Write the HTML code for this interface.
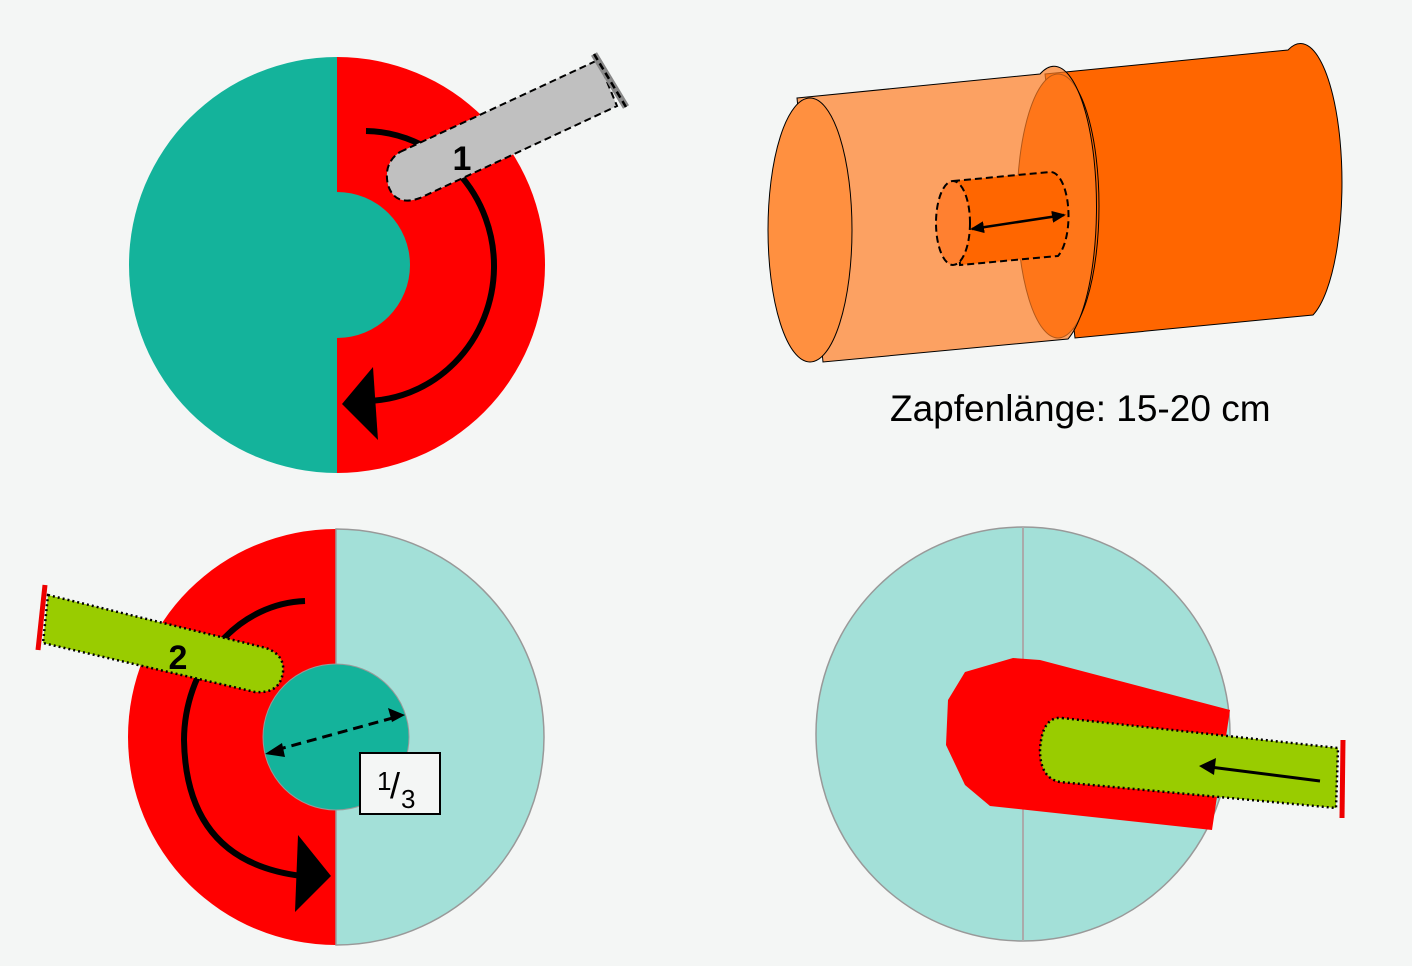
<!DOCTYPE html>
<html><head><meta charset="utf-8"><style>html,body{margin:0;padding:0;background:#f4f6f5}svg{display:block}</style></head><body>
<svg width="1412" height="966" viewBox="0 0 1412 966" xmlns="http://www.w3.org/2000/svg" font-family="Liberation Sans, sans-serif">
<defs>
<marker id="ah2" markerWidth="14" markerHeight="12" refX="12" refY="6" orient="auto-start-reverse" markerUnits="userSpaceOnUse"><path d="M0,0 L14,6 L0,12z" fill="#000"/></marker>
</defs>
<rect width="1412" height="966" fill="#f4f6f5"/>
<!-- Circle 1 -->
<path d="M337,57 A208,208 0 0 0 337,473 Z" fill="#14b39b"/>
<path d="M337,57 A208,208 0 0 1 337,473 Z" fill="#ff0000"/>
<path d="M337,192 A73,73 0 0 1 337,338 Z" fill="#14b39b"/>
<path d="M366,131 A130,135 0 0 1 362,401" fill="none" stroke="#000" stroke-width="6"/>
<polygon points="342,404 373,367 378,440" fill="#000"/>
<path d="M400,152 L598,60 L617,106 L420,198 Q395,207 388,185 Q383,163 400,152 Z" fill="#c0c0c0" stroke="#000" stroke-width="2" stroke-dasharray="7,4"/>
<line x1="594" y1="54" x2="626" y2="107" stroke="#888" stroke-width="7"/>
<line x1="594" y1="54" x2="626" y2="107" stroke="#000" stroke-width="2.5" stroke-dasharray="7,4"/>
<text x="462" y="170" font-size="34" font-weight="bold" text-anchor="middle">1</text>
<!-- Circle 2 -->
<path d="M336,529 A208,208 0 0 0 336,945 Z" fill="#ff0000"/>
<path d="M336,529 A208,208 0 0 1 336,945 Z" fill="#a3e0d8" stroke="#999" stroke-width="1.5"/>
<circle cx="336" cy="737" r="73" fill="#14b39b" stroke="#999" stroke-width="1"/>
<path d="M305,601 A125,140 0 0 0 184,740 Q186,862 302,876" fill="none" stroke="#000" stroke-width="6"/>
<polygon points="331,876 298,835 295,912" fill="#000"/>
<line x1="276" y1="750" x2="400" y2="716" stroke="#000" stroke-width="3" stroke-dasharray="10,6"/>
<polygon points="265,754 282,743 285,757" fill="#000"/>
<polygon points="405,715 388,708 392,722" fill="#000"/>
<rect x="360" y="753" width="80" height="61" fill="#f4f6f5" stroke="#000" stroke-width="2"/>
<text x="377" y="790" font-size="26">1</text><text x="390" y="798" font-size="36">/</text><text x="401" y="808" font-size="26">3</text>
<path d="M48,595 L266,648 Q285,655 283,672 Q280,694 255,692 L43,643 Z" fill="#99cc00" stroke="#000" stroke-width="2.5" stroke-dasharray="2,3"/>
<line x1="45" y1="585" x2="38" y2="650" stroke="#e00" stroke-width="5"/>
<text x="178" y="669" font-size="34" font-weight="bold" text-anchor="middle">2</text>
<!-- Circle 4 -->
<circle cx="1023" cy="734" r="207" fill="#a3e0d8" stroke="#999" stroke-width="1.5"/>
<line x1="1023" y1="527" x2="1023" y2="941" stroke="#aaa" stroke-width="2"/>
<polygon points="1013,658 1040,660 1230,710 1212,830 990,806 965,785 946,745 948,700 965,672" fill="#ff0000"/>
<path d="M1062,718 L1338,748 L1336,808 L1060,782 Q1040,778 1040,750 Q1042,716 1062,718 Z" fill="#99cc00" stroke="#000" stroke-width="2.5" stroke-dasharray="2,3"/>
<line x1="1343" y1="740" x2="1342" y2="818" stroke="#e00" stroke-width="5"/>
<line x1="1320" y1="781" x2="1210" y2="767" stroke="#000" stroke-width="3"/>
<polygon points="1199,766 1216,758 1214,775" fill="#000"/>
<!-- Cylinders -->
<path d="M1045,74 L1288,50 A40,134 0 0 1 1313,315 L1075,338 Z" fill="#ff6600" stroke="#000" stroke-width="1"/>
<ellipse cx="1058" cy="206" rx="41" ry="132" fill="#ff6600" stroke="#000" stroke-width="1"/>
<path d="M797,98 L1040,74 A40,132 0 0 1 1068,339 L823,362 Z" fill="rgb(255,125,35)" fill-opacity="0.7" stroke="#000" stroke-width="1"/>
<ellipse cx="810" cy="230" rx="42" ry="132" fill="#ff9040" stroke="#000" stroke-width="1"/>
<path d="M953,181 L1050,172 A18,44 0 0 1 1058,256 L960,265 Z" fill="#ff6600" stroke="#000" stroke-width="2" stroke-dasharray="7,4"/>
<ellipse cx="953" cy="223" rx="17" ry="42" fill="#ff8030" stroke="#000" stroke-width="2" stroke-dasharray="7,4"/>
<line x1="972" y1="229" x2="1064" y2="215" stroke="#000" stroke-width="2.5" marker-end="url(#ah2)" marker-start="url(#ah2)"/>
<text x="890" y="421" font-size="37" fill="#000">Zapfenlänge: 15-20 cm</text>
</svg>
</body></html>
